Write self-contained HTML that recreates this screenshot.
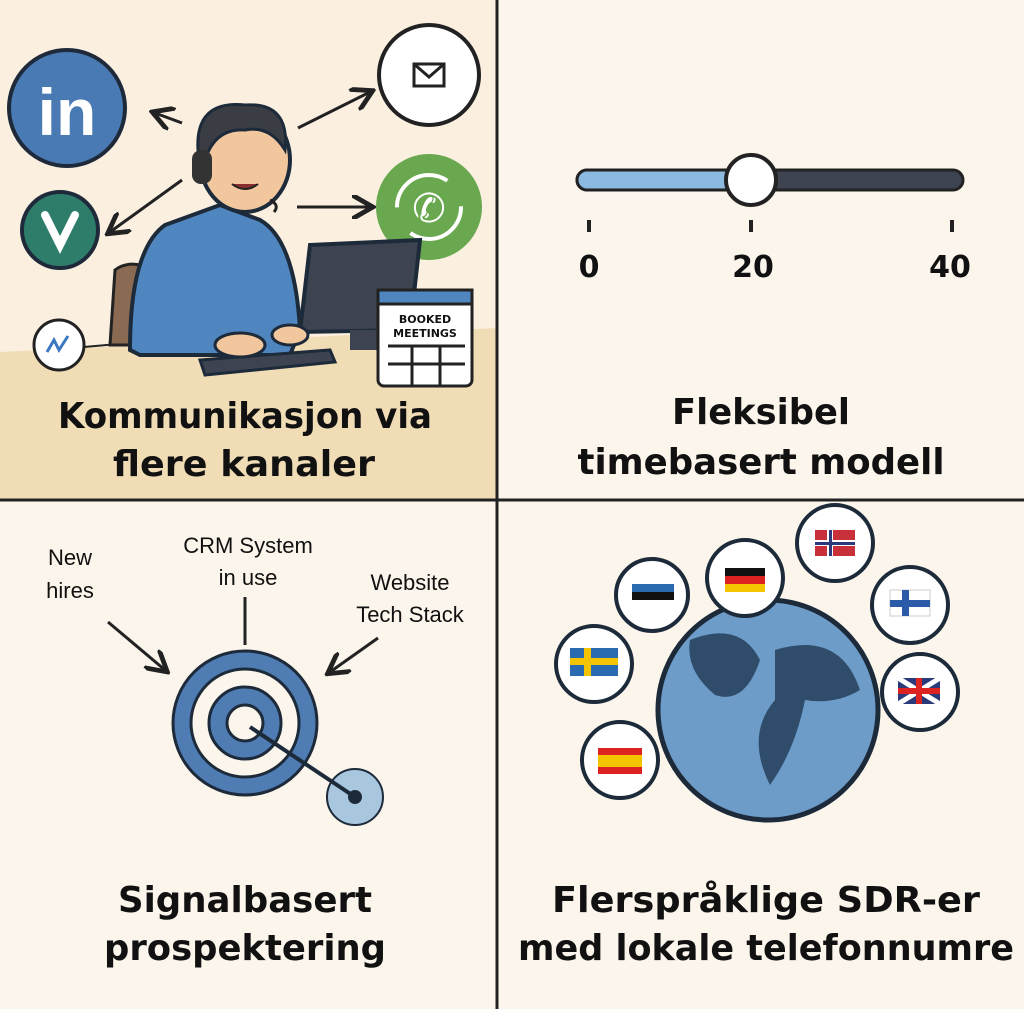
<!DOCTYPE html>
<html><head><meta charset="utf-8"><style>
html,body{margin:0;padding:0;background:#fbf5ec}
svg{display:block}
text{font-family:"DejaVu Sans","Liberation Sans",sans-serif;fill:#111}
.t{font-size:36px;font-weight:bold;text-anchor:middle}
.s{font-size:22px;text-anchor:middle;font-family:"Liberation Sans",sans-serif}
</style></head><body>
<svg width="1024" height="1009" viewBox="0 0 1024 1009" xmlns="http://www.w3.org/2000/svg">
<defs><marker id="a" markerWidth="8" markerHeight="8" refX="6" refY="4" orient="auto"><path d="M0,0 L7,4 L0,8" fill="none" stroke="#222" stroke-width="1.6"/></marker></defs>
<rect width="1024" height="1009" fill="#fbf5ec"/>
<!-- TL -->
<rect x="0" y="0" width="497" height="500" fill="#fbefe0"/>
<path d="M0,352 L497,328 L497,500 L0,500Z" fill="#f0dcb5"/>
<circle cx="67" cy="108" r="58" fill="#4a7ab3" stroke="#1e2a3a" stroke-width="4"/>
<text x="67" y="135" font-size="66" font-weight="bold" text-anchor="middle" style="fill:#fff;font-family:'Liberation Sans'">in</text>
<circle cx="60" cy="230" r="38" fill="#2e7d6b" stroke="#1e2a3a" stroke-width="4"/>
<path d="M45,215 L60,245 L75,215" fill="none" stroke="#fff" stroke-width="8" stroke-linecap="round"/>
<circle cx="59" cy="345" r="25" fill="#fff" stroke="#222" stroke-width="3"/>
<path d="M47,352 L54,340 L59,350 L68,336" fill="none" stroke="#3b78c0" stroke-width="3"/>
<line x1="84" y1="347" x2="130" y2="343" stroke="#222" stroke-width="2"/>
<circle cx="429" cy="75" r="50" fill="#fff" stroke="#222" stroke-width="4"/>
<rect x="414" y="64" width="30" height="22" fill="none" stroke="#222" stroke-width="3"/>
<path d="M414,64 L429,77 L444,64" fill="none" stroke="#222" stroke-width="3"/>
<circle cx="429" cy="207" r="53" fill="#6aa84f"/>
<circle cx="429" cy="207" r="32" fill="none" stroke="#fff" stroke-width="4" stroke-dasharray="70 30"/>
<text x="429" y="222" font-size="40" text-anchor="middle" style="fill:#fff">✆</text>
<line x1="182" y1="123" x2="155" y2="113" stroke="#222" stroke-width="3" marker-end="url(#a)"/>
<line x1="298" y1="128" x2="370" y2="92" stroke="#222" stroke-width="3" marker-end="url(#a)"/>
<line x1="182" y1="180" x2="110" y2="232" stroke="#222" stroke-width="3" marker-end="url(#a)"/>
<line x1="297" y1="207" x2="370" y2="207" stroke="#222" stroke-width="3" marker-end="url(#a)"/>
<!-- person -->
<path d="M110,345 L115,270 Q125,262 140,265 L135,345Z" fill="#8a6a52" stroke="#222" stroke-width="3"/>
<path d="M130,350 Q130,250 165,225 L220,205 L260,220 Q295,240 300,330 L290,355 L140,355Z" fill="#4f86c0" stroke="#1c2a3a" stroke-width="4"/>
<ellipse cx="245" cy="160" rx="45" ry="52" fill="#f2c79e" stroke="#1c2a3a" stroke-width="4"/>
<path d="M198,150 Q195,100 245,105 Q290,102 285,150 Q270,125 245,130 Q215,128 205,160Z" fill="#3a3e44" stroke="#1c2a3a" stroke-width="3"/>
<rect x="192" y="150" width="20" height="34" rx="9" fill="#333"/>
<path d="M270,200 Q280,205 274,212" fill="none" stroke="#222" stroke-width="3"/>
<path d="M232,184 Q245,194 258,184" fill="#8a2f2f" stroke="#222" stroke-width="2"/>
<polygon points="310,245 420,240 410,330 300,332" fill="#3d4350" stroke="#1c2a3a" stroke-width="4"/>
<rect x="350" y="330" width="40" height="20" fill="#3d4350"/>
<polygon points="200,360 330,350 335,362 205,375" fill="#3d4350" stroke="#1c2a3a" stroke-width="3"/>
<ellipse cx="240" cy="345" rx="25" ry="12" fill="#f2c79e" stroke="#1c2a3a" stroke-width="3"/>
<ellipse cx="290" cy="335" rx="18" ry="10" fill="#f2c79e" stroke="#1c2a3a" stroke-width="3"/>
<rect x="378" y="290" width="94" height="96" rx="6" fill="#fff" stroke="#222" stroke-width="3"/>
<rect x="378" y="290" width="94" height="14" fill="#4f86c0" stroke="#222" stroke-width="3"/>
<text x="425" y="323" font-size="11" font-weight="bold" text-anchor="middle">BOOKED</text>
<text x="425" y="337" font-size="11" font-weight="bold" text-anchor="middle">MEETINGS</text>
<path d="M388,346 H465 M388,364 H465 M412,345 V385 M440,345 V385" stroke="#222" stroke-width="3"/>
<text class="t" x="245" y="428" textLength="374" lengthAdjust="spacingAndGlyphs">Kommunikasjon via</text>
<text class="t" x="244" y="476" textLength="262" lengthAdjust="spacingAndGlyphs">flere kanaler</text>
<!-- TR -->
<rect x="577" y="170" width="386" height="20" rx="10" fill="#3d4350" stroke="#222" stroke-width="3"/>
<rect x="577" y="170" width="175" height="20" rx="10" fill="#8bb9e0" stroke="#222" stroke-width="3"/>
<circle cx="751" cy="180" r="25" fill="#fff" stroke="#222" stroke-width="4"/>
<path d="M589,220 V232 M751,220 V232 M952,220 V232" stroke="#222" stroke-width="4"/>
<text x="589" y="277" font-size="30" font-weight="bold" text-anchor="middle">0</text>
<text x="753" y="277" font-size="30" font-weight="bold" text-anchor="middle">20</text>
<text x="950" y="277" font-size="30" font-weight="bold" text-anchor="middle">40</text>
<text class="t" x="761" y="424" textLength="178" lengthAdjust="spacingAndGlyphs">Fleksibel</text>
<text class="t" x="761" y="474" textLength="367" lengthAdjust="spacingAndGlyphs">timebasert modell</text>
<!-- dividers -->
<line x1="497" y1="0" x2="497" y2="1009" stroke="#222" stroke-width="3"/>
<line x1="0" y1="500" x2="1024" y2="500" stroke="#222" stroke-width="3"/>
<!-- BL -->
<text class="s" x="70" y="565">New</text>
<text class="s" x="70" y="598">hires</text>
<text class="s" x="248" y="553">CRM System</text>
<text class="s" x="248" y="585">in use</text>
<text class="s" x="410" y="590">Website</text>
<text class="s" x="410" y="622">Tech Stack</text>
<line x1="108" y1="622" x2="165" y2="670" stroke="#222" stroke-width="3" marker-end="url(#a)"/>
<line x1="245" y1="597" x2="245" y2="645" stroke="#222" stroke-width="3"/>
<line x1="378" y1="638" x2="330" y2="672" stroke="#222" stroke-width="3" marker-end="url(#a)"/>
<circle cx="245" cy="723" r="72" fill="#4f7cb3" stroke="#1c2a3a" stroke-width="3"/>
<circle cx="245" cy="723" r="54" fill="#fbf5ec" stroke="#1c2a3a" stroke-width="3"/>
<circle cx="245" cy="723" r="36" fill="#4f7cb3" stroke="#1c2a3a" stroke-width="3"/>
<circle cx="245" cy="723" r="18" fill="#fbf5ec" stroke="#1c2a3a" stroke-width="3"/>
<circle cx="355" cy="797" r="28" fill="#a9c6df" stroke="#1c2a3a" stroke-width="2"/>
<line x1="250" y1="727" x2="355" y2="797" stroke="#1c2a3a" stroke-width="4"/>
<circle cx="355" cy="797" r="7" fill="#1c2a3a"/>
<text class="t" x="245" y="912" textLength="254" lengthAdjust="spacingAndGlyphs">Signalbasert</text>
<text class="t" x="245" y="960" textLength="282" lengthAdjust="spacingAndGlyphs">prospektering</text>
<!-- BR -->
<circle cx="768" cy="710" r="110" fill="#6d9cc8" stroke="#1c2a3a" stroke-width="5"/>
<path d="M690,640 Q740,620 760,660 Q745,705 715,695 Q685,670 690,640Z M775,650 Q840,630 860,690 Q835,705 805,700 Q795,750 770,785 Q745,735 775,700Z" fill="#2f4d6b"/>
<g stroke="#1c2a3a" stroke-width="4" fill="#fff">
<circle cx="652" cy="595" r="36"/>
<circle cx="745" cy="578" r="38"/>
<circle cx="835" cy="543" r="38"/>
<circle cx="910" cy="605" r="38"/>
<circle cx="594" cy="664" r="38"/>
<circle cx="920" cy="692" r="38"/>
<circle cx="620" cy="760" r="38"/>
</g>
<rect x="632" y="584" width="42" height="8" fill="#2a6ab0"/><rect x="632" y="592" width="42" height="8" fill="#111"/><rect x="632" y="600" width="42" height="8" fill="#fff"/>
<rect x="725" y="568" width="40" height="8" fill="#111"/><rect x="725" y="576" width="40" height="8" fill="#d22"/><rect x="725" y="584" width="40" height="8" fill="#f5c400"/>
<rect x="815" y="530" width="40" height="26" fill="#c8303a"/><rect x="815" y="540" width="40" height="6" fill="#fff"/><rect x="827" y="530" width="6" height="26" fill="#fff"/><rect x="815" y="542" width="40" height="3" fill="#2a3a7a"/><rect x="829" y="530" width="3" height="26" fill="#2a3a7a"/>
<rect x="890" y="590" width="40" height="26" fill="#fff" stroke="#ccc"/><rect x="890" y="600" width="40" height="7" fill="#2a5aa8"/><rect x="902" y="590" width="7" height="26" fill="#2a5aa8"/>
<rect x="570" y="648" width="48" height="28" fill="#2a6ab0"/><rect x="570" y="658" width="48" height="7" fill="#f5c400"/><rect x="584" y="648" width="7" height="28" fill="#f5c400"/>
<rect x="898" y="678" width="42" height="26" fill="#2a3a7a"/><path d="M898,678 L940,704 M940,678 L898,704" stroke="#fff" stroke-width="5"/><rect x="898" y="688" width="42" height="6" fill="#d22"/><rect x="916" y="678" width="6" height="26" fill="#d22"/>
<rect x="598" y="748" width="44" height="26" fill="#d22"/><rect x="598" y="755" width="44" height="12" fill="#f5c400"/>
<text class="t" x="766" y="912" textLength="428" lengthAdjust="spacingAndGlyphs">Flerspråklige SDR-er</text>
<text class="t" x="766" y="960" textLength="496" lengthAdjust="spacingAndGlyphs">med lokale telefonnumre</text>
</svg>
</body></html>
